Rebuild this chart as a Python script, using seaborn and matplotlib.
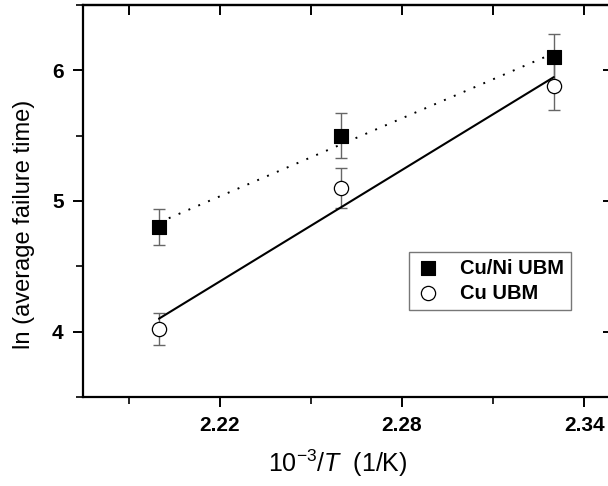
import numpy as np
import matplotlib
matplotlib.use('Agg')
import matplotlib.pyplot as plt
import seaborn as sns

# inverse temperature, 10^-3 / T (1/K)
inv_T = [2.20, 2.26, 2.33]

# ln(average failure time)
cuni_y = [4.80, 5.50, 6.10]
cuni_err = [0.14, 0.17, 0.18]
cu_y = [4.02, 5.10, 5.88]
cu_err = [0.12, 0.15, 0.18]

x_major = [2.22, 2.28, 2.34]
x_minor = [2.19, 2.25, 2.31]
y_major = [4, 5, 6]
y_minor = [3.5, 4.5, 5.5, 6.5]

sns.set_style('ticks')
plt.rcParams['font.family'] = ['Liberation Sans', 'DejaVu Sans']
plt.rcParams['mathtext.fontset'] = 'custom'
plt.rcParams['mathtext.rm'] = 'Liberation Sans'
plt.rcParams['mathtext.it'] = 'Liberation Sans:italic'
plt.rcParams['text.color'] = 'black'
plt.rcParams['axes.labelcolor'] = 'black'
plt.rcParams['xtick.color'] = 'black'
plt.rcParams['ytick.color'] = 'black'

fig = plt.figure(figsize=(6.08, 4.86), dpi=100)
ax = fig.add_axes([83 / 608, 1 - 397 / 486, 530 / 608, 392 / 486])

# error bars
ax.errorbar(inv_T, cuni_y, yerr=cuni_err, fmt='none', ecolor='#666666',
            elinewidth=1, capsize=4, capthick=1, zorder=2)
ax.errorbar(inv_T, cu_y, yerr=cu_err, fmt='none', ecolor='#666666',
            elinewidth=1, capsize=4, capthick=1, zorder=2)

# Arrhenius fits
sns.regplot(x=inv_T, y=cuni_y, ci=None, scatter=False, truncate=True, ax=ax,
            line_kws=dict(color='black', lw=1.4, ls=(0, (1, 4.5)), zorder=3))
sns.regplot(x=inv_T, y=cu_y, ci=None, scatter=False, truncate=True, ax=ax,
            line_kws=dict(color='black', lw=1.5, ls='-', zorder=3))

# markers
sns.scatterplot(x=inv_T, y=cuni_y, marker='s', s=95, color='black',
                edgecolor='black', linewidth=0.8, label='Cu/Ni UBM', ax=ax, zorder=4)
sns.scatterplot(x=inv_T, y=cu_y, marker='o', s=105, facecolor='white',
                edgecolor='black', linewidth=0.9, label='Cu UBM', ax=ax, zorder=4)

ax.set_xlim(2.175, 2.3495)
ax.set_ylim(3.5, 6.5)

ax.set_xticks(x_major)
ax.set_xticks(x_minor, minor=True)
ax.set_xticklabels([f'{v:.2f}' for v in x_major], fontsize=15, fontweight='bold')
ax.set_yticks(y_major)
ax.set_yticks(y_minor, minor=True)
ax.set_yticklabels([str(v) for v in y_major], fontsize=15, fontweight='bold')

ax.tick_params(which='major', direction='out', length=7, width=1.4, pad=7)
ax.tick_params(which='minor', direction='out', length=5, width=1.2)

for sp in ax.spines.values():
    sp.set_linewidth(1.6)
    sp.set_color('black')

# inward ticks on the top and right
top = ax.secondary_xaxis('top')
top.set_xticks(x_major + x_minor)
top.tick_params(direction='in', length=7, width=1.4, labeltop=False)
top.spines['top'].set_linewidth(1.6)
right = ax.secondary_yaxis('right')
right.set_yticks(y_major)
right.tick_params(direction='in', length=7, width=1.4, labelright=False)
right.spines['right'].set_linewidth(1.6)

ax.set_xlabel(r'10$^{-3}$/$\it{T}$  (1/K)', fontsize=18)
ax.set_ylabel('ln (average failure time)', fontsize=17)
ax.xaxis.set_label_coords(0.48, -0.13)
ax.yaxis.set_label_coords(-0.09, 0.44)

leg = ax.legend(loc='lower right', bbox_to_anchor=(0.94, 0.197), frameon=True,
                fancybox=False, edgecolor='#777777', framealpha=1,
                prop=dict(weight='bold', size=14.5), handletextpad=1.0,
                borderpad=0.35, labelspacing=0.3, handlelength=1.2)
leg.get_frame().set_linewidth(1.0)

fig.savefig('out.png', dpi=100)
